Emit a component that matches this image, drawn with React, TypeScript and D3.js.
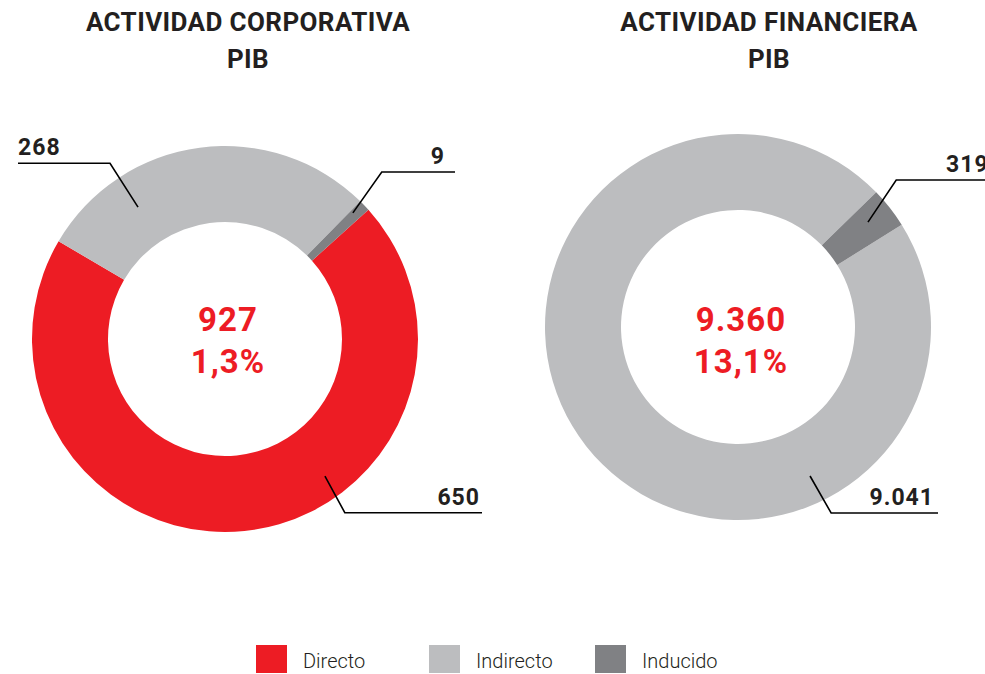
import React from 'react';
import * as d3 from 'd3';

const categories = ['Directo', 'Indirecto', 'Inducido'];
const colors = ['#ED1C24', '#BCBDBF', '#808184'];

const corporativaValues = [650, 268, 9];
const financieraValues = [0, 9041, 319];

const titles = [
    ['ACTIVIDAD CORPORATIVA', 'PIB'],
    ['ACTIVIDAD FINANCIERA', 'PIB'],
];
const totals = ['927', '9.360'];
const shares = ['1,3%', '13,1%'];

const corporativaLabels = ['650', '268', '9'];
const financieraLabels = ['', '9.041', '319'];

const W = 985;
const H = 674;
const outerR = 193;
const innerR = 117;
const deg = Math.PI / 180;
const textColor = '#231F20';
const font = 'Roboto, "DejaVu Sans", sans-serif';

// leader line layout per slice: start angle/radius, elbow angle/radius, horizontal end, text
type Leader = {
    a1: number; r1: number; a2: number; r2: number;
    x2: number; tx: number; anchor: 'start' | 'end';
} | null;

const panels = [
    {
        cx: 225, cy: 339, titleX: 248, start: 48 * deg,
        values: corporativaValues, labels: corporativaLabels,
        leaders: [
            { a1: 143.9, r1: 169.6, a2: 145.4, r2: 211, x2: 482, tx: 480, anchor: 'end' },
            { a1: 326.6, r1: 158, a2: 326.8, r2: 210, x2: 18, tx: 18, anchor: 'start' },
            { a1: 45.4, r1: 179.6, a2: 43.2, r2: 229, x2: 455, tx: 445, anchor: 'end' },
        ] as Leader[],
    },
    {
        cx: 738, cy: 327, titleX: 769, start: 58 * deg,
        values: financieraValues, labels: financieraLabels,
        leaders: [
            null,
            { a1: 154.2, r1: 165.5, a2: 153.4, r2: 208, x2: 938, tx: 934, anchor: 'end' },
            { a1: 51.1, r1: 167, a2: 47.1, r2: 216, x2: 990, tx: 946, anchor: 'start' },
        ] as Leader[],
    },
];

const Donut = ({ p, i }: { p: typeof panels[0]; i: number }) => {
    const pie = d3.pie<number>().sort(null).value(d => d)
        .startAngle(p.start).endAngle(p.start + 2 * Math.PI);
    const arc = d3.arc<d3.PieArcDatum<number>>().innerRadius(innerR).outerRadius(outerR);
    const arcs = pie(p.values);

    return (
        <g>
            <text x={p.titleX} y={31} textAnchor="middle" fontFamily={font} fontWeight={700}
                fontSize={26} letterSpacing={0.4} fill={textColor}>{titles[i][0]}</text>
            <text x={p.titleX} y={68} textAnchor="middle" fontFamily={font} fontWeight={700}
                fontSize={26} letterSpacing={0.4} fill={textColor}>{titles[i][1]}</text>
            <g transform={`translate(${p.cx},${p.cy})`}>
                {arcs.map((a, k) => a.value > 0 && (
                    <path key={k} d={arc(a) || ''} fill={colors[k]} />
                ))}
            </g>
            {p.leaders.map((l, k) => {
                if (!l) return null;
                const [x0, y0] = d3.pointRadial(l.a1 * deg, l.r1);
                const [x1, y1] = d3.pointRadial(l.a2 * deg, l.r2);
                const ax = p.cx + x0, ay = p.cy + y0;
                const bx = p.cx + x1, by = p.cy + y1;
                return (
                    <g key={k}>
                        <polyline points={`${ax},${ay} ${bx},${by} ${l.x2},${by}`}
                            fill="none" stroke="#000" strokeWidth={1.6} />
                        <text x={l.tx} y={by - 8} textAnchor={l.anchor} fontFamily={font}
                            fontWeight={700} fontSize={23} letterSpacing={1} fill={textColor}>
                            {p.labels[k]}
                        </text>
                    </g>
                );
            })}
            <text x={p.cx + 3} y={331} textAnchor="middle" fontFamily={font} fontWeight={700}
                fontSize={33} letterSpacing={1} fill="#ED1C24">{totals[i]}</text>
            <text x={p.cx + 3} y={373} textAnchor="middle" fontFamily={font} fontWeight={700}
                fontSize={33} letterSpacing={1} fill="#ED1C24">{shares[i]}</text>
        </g>
    );
};

const legendX = [256, 429, 595];

export default function App() {
    return (
        <svg width={W} height={H} style={{ position: 'absolute', left: 0, top: 0 }}>
            <rect width={W} height={H} fill="#fff" />
            {panels.map((p, i) => <Donut key={i} p={p} i={i} />)}
            {categories.map((c, k) => (
                <g key={c}>
                    <rect x={legendX[k]} y={645} width={31} height={28} fill={colors[k]} />
                    <text x={legendX[k] + 47} y={668} fontFamily={font} fontWeight={300}
                        fontSize={20} fill={textColor}>{c}</text>
                </g>
            ))}
        </svg>
    );
}
